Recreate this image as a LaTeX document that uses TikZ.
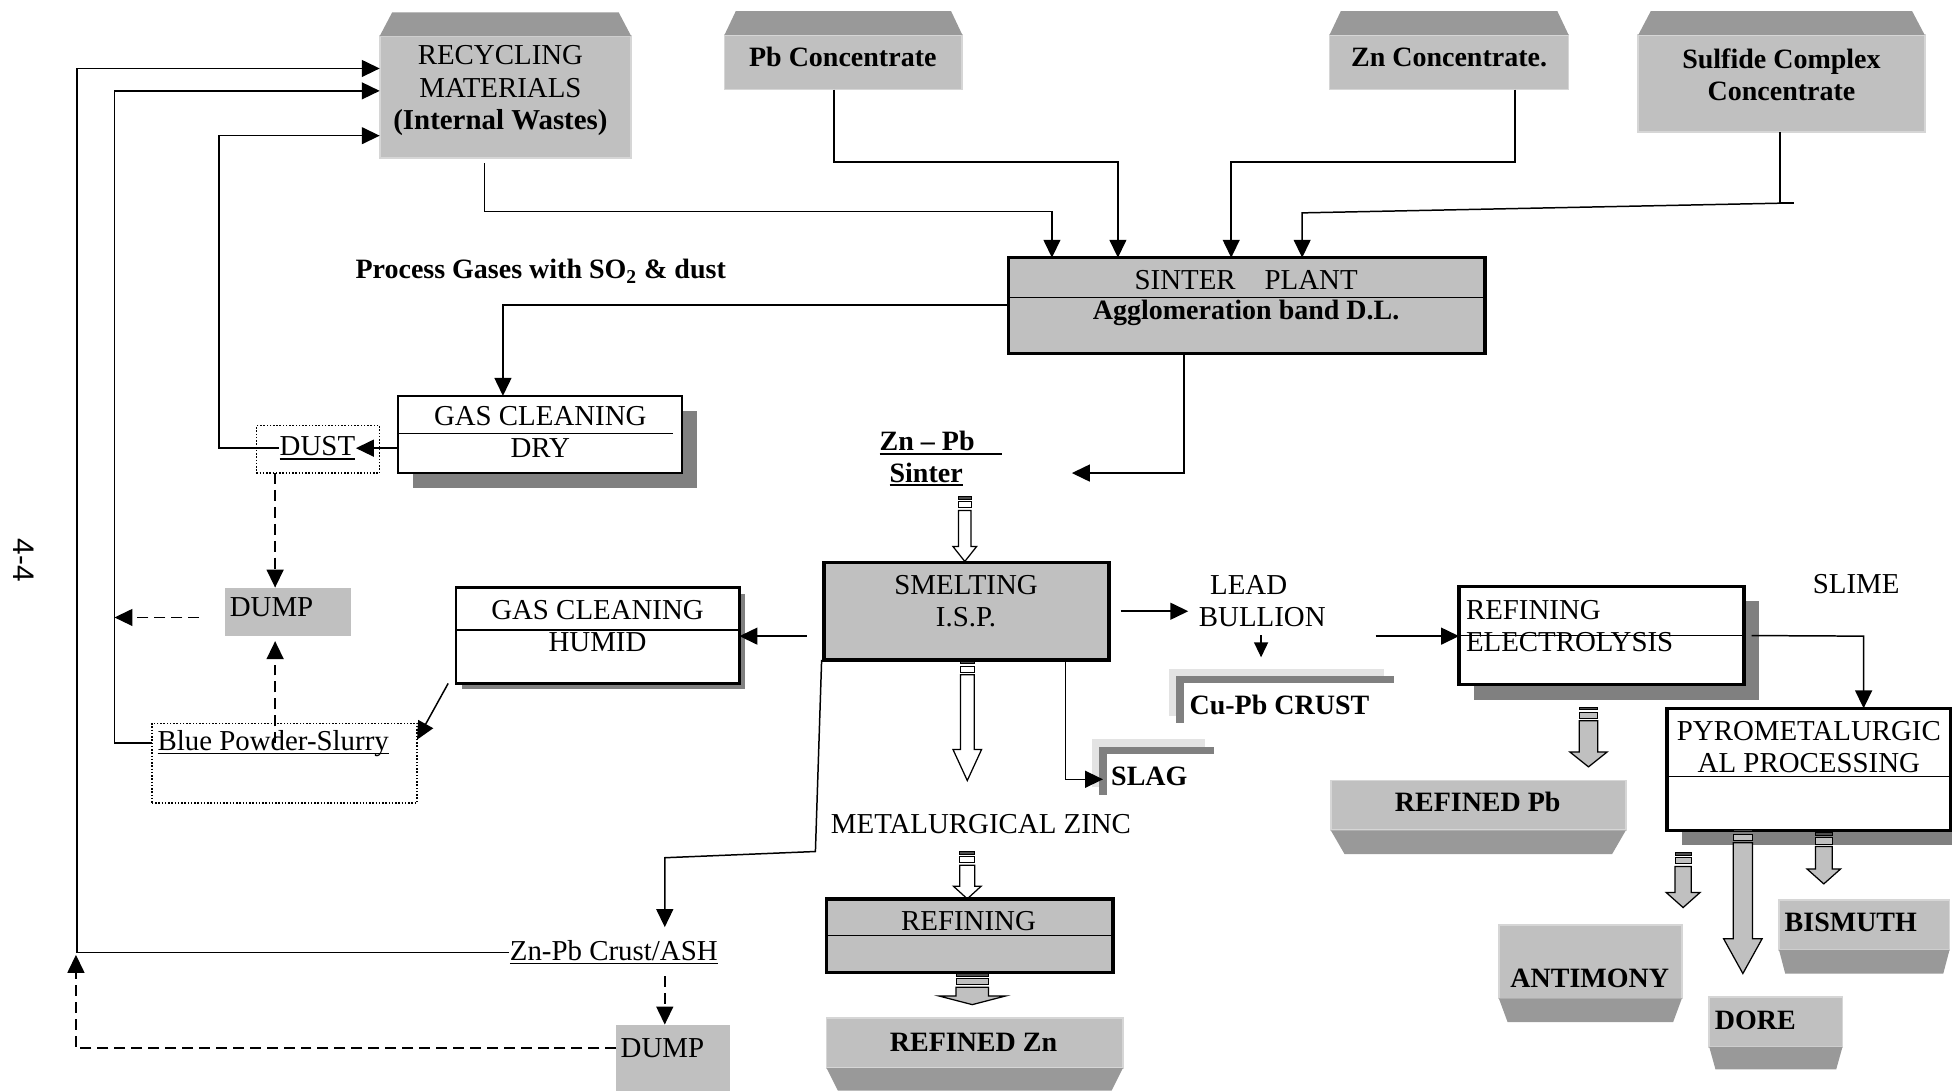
\documentclass[tikz,border=0pt]{standalone}
\usepackage{fontspec}
\setmainfont{Liberation Serif}
\newfontfamily\pagesans{Liberation Sans}
\usetikzlibrary{arrows.meta, calc, shadows}

\newlength{\unitpx}
\setlength{\unitpx}{0.25mm}

\definecolor{boxgray}{HTML}{C0C0C0}
\definecolor{capgray}{HTML}{999999}
\definecolor{shadowgray}{HTML}{808080}
\definecolor{edgegray}{HTML}{D6D6D6}
\definecolor{palegray}{HTML}{E3E3E3}

\tikzset{
  wh/.style 2 args={minimum width=#1*\unitpx, minimum height=#2*\unitpx},
  procbox/.style={draw, line width=0.7mm, fill=boxgray, inner sep=0pt, outer sep=0pt, anchor=north west},
  gasbox/.style={draw, line width=0.45mm, fill=white, inner sep=0pt, outer sep=0pt, anchor=north west},
  cardbox/.style={fill=boxgray, draw=edgegray, line width=0.35mm, inner sep=0pt, outer sep=0pt, anchor=north west},
  dumpbox/.style={fill=boxgray, inner sep=0pt, outer sep=0pt, anchor=north west},
  dotbox/.style={draw, densely dotted, line width=0.3mm, inner sep=0pt, outer sep=0pt, anchor=north west},
  shadowbig/.style={drop shadow={shadow xshift=3mm, shadow yshift=-3mm, fill=shadowgray, opacity=1}},
  shadowsmall/.style={drop shadow={shadow xshift=1.2mm, shadow yshift=-1.2mm, fill=shadowgray, opacity=1}},
  txt/.style={inner sep=0pt, align=center},
  boldtxt/.style={txt, font=\fontsize{16}{18.5}\selectfont\bfseries},
  dashln/.style={dash pattern=on 2.2mm off 1.2mm}
}

% heavier underline, as in the scanned chart
\newcommand{\ulbar}[1]{\setbox0\hbox{#1}\rlap{\rule[-2.3pt]{\wd0}{0.9pt}}\box0}

% striped block arrow: fill, x, top, head start, tip, half shaft, half head
\newcommand{\blockarrow}[7]{%
  \filldraw[fill=black!70, line width=0.2mm] (#2-#6,#3) rectangle (#2+#6,#3+2);
  \filldraw[fill=#1, line width=0.2mm] (#2-#6,#3+4) rectangle (#2+#6,#3+9);
  \filldraw[fill=#1, line width=0.25mm] (#2-#6,#3+11) -- (#2-#6,#4) -- (#2-#7,#4)
    -- (#2,#5) -- (#2+#7,#4) -- (#2+#6,#4) -- (#2+#6,#3+11) -- cycle;
}
% sloped cap above / below a card
\newcommand{\capup}[3]{%
  \fill[capgray] (#1.north west) -- ([xshift=#2*\unitpx, yshift=#3*\unitpx]#1.north west)
    -- ([xshift=-#2*\unitpx, yshift=#3*\unitpx]#1.north east) -- (#1.north east) -- cycle;
}
\newcommand{\capdown}[3]{%
  \fill[capgray] (#1.south west) -- ([xshift=#2*\unitpx, yshift=-#3*\unitpx]#1.south west)
    -- ([xshift=-#2*\unitpx, yshift=-#3*\unitpx]#1.south east) -- (#1.south east) -- cycle;
}

\begin{document}
\begin{tikzpicture}[x=0.25mm, y=-0.25mm, font=\fontsize{16.5}{18.5}\selectfont,
  line width=0.3mm, >={Triangle[length=3.6mm, width=3.4mm]}]

% Background
\fill[white] (0,0) rectangle (1568,876);
\useasboundingbox (0,0) rectangle (1568,876);

% Raw materials
\node[cardbox, wh={202}{98}] (recyc) at (305,29) {};
\capup{recyc}{10}{19}
\node[cardbox, wh={191}{44}] (pbconc) at (582,28) {};
\capup{pbconc}{9}{19}
\node[cardbox, wh={192}{44}] (znconc) at (1068,28) {};
\capup{znconc}{9}{19}
\node[cardbox, wh={230}{78}] (sulfide) at (1316,28) {};
\capup{sulfide}{10}{19}
\node[txt] (recyc-t) at (402,73) {RECYCLING\\MATERIALS\\\textbf{(Internal Wastes)}};
\node[boldtxt] (pbconc-t) at (677,46) {Pb Concentrate};
\node[boldtxt] (znconc-t) at (1164,46) {Zn Concentrate.};
\node[boldtxt] (sulfide-t) at (1431,60) {Sulfide Complex\\Concentrate};

% Sinter plant
\node[procbox, wh={383}{77}] (sinter) at (810,207) {};
\draw ($(sinter.north west)!0.415!(sinter.south west)$) -- ($(sinter.north east)!0.415!(sinter.south east)$);
\node[txt] (sinter-t1) at (1001,225) {SINTER\quad PLANT};
\node[boldtxt] (sinter-t2) at (1001,251) {Agglomeration band D.L.};

\coordinate (r1) at (389,170);
\coordinate (r2) at (845,170);
\draw[->, shorten <=1mm] (recyc.south -| r1) -- (r1) -- (r2) -- (r2 |- sinter.north);
\coordinate (p1) at (670,130);
\coordinate (p2) at (898,130);
\draw[->] (pbconc.south -| p1) -- (p1) -- (p2) -- (p2 |- sinter.north);
\coordinate (n1) at (1217,130);
\coordinate (n2) at (989,130);
\draw[->] (znconc.south -| n1) -- (n1) -- (n2) -- (n2 |- sinter.north);
\coordinate (q1) at (1430,163);
\coordinate (q2) at (1441,163);
\coordinate (q3) at (1046,171);
\draw (sulfide.south -| q1) -- (q1) -- (q2);
\draw[->] (q2) -- (q3) -- (q3 |- sinter.north);

% Dry gas cleaning
\node[boldtxt, anchor=west] (gases-t) at (285,218) {Process Gases with SO\textsubscript{2} \& dust};
\node[gasbox, shadowbig, wh={228}{62}] (gasdry) at (320,318) {};
\draw[shorten >=1.8mm] ($(gasdry.north west)!0.49!(gasdry.south west)$) -- ($(gasdry.north east)!0.49!(gasdry.south east)$);
\node[txt] (gasdry-t) at (434,347) {GAS CLEANING\\DRY};
\coordinate (g1) at (404,245);
\draw[->] (sinter.west |- g1) -- (g1) -- (g1 |- gasdry.north);

\node[dotbox, wh={99}{38}] (dust) at (206,342) {};
\node[txt] (dust-t) at (255,360) {\ulbar{DUST}};
\node[dumpbox, wh={101}{39}] (dump1) at (181,472) {};
\node[txt, anchor=west] (dump1-t) at (184,488) {DUMP};
\draw[->] (gasdry.west |- dust-t) -- (dust-t.east);
\coordinate (k1) at (176,109);
\draw[->] (dust-t.west) -| (k1) -- (recyc.west |- k1);
\coordinate (d1) at (221,0);
\draw[dashln, ->] (dust.south -| d1) -- (dump1.north -| d1);

% Humid gas cleaning
\node[gasbox, shadowsmall, wh={228}{77}] (gashumid) at (366,472) {};
\draw ($(gashumid.north west)!0.44!(gashumid.south west)$) -- ($(gashumid.north east)!0.44!(gashumid.south east)$);
\node[txt] (gashumid-t) at (480,503) {GAS CLEANING\\HUMID};
\node[dotbox, wh={213}{64}] (blue) at (122,581) {};
\node[txt, anchor=west] (blue-t) at (126,597) {\ulbar{Blue Powder-Slurry}};
\draw[dashln, ->, shorten >=1mm] (blue-t -| d1) -- (dump1.south -| d1);
\coordinate (b1) at (92,73);
\draw[->] (blue.west |- blue-t) -| (b1) -- (recyc.west |- b1);
\coordinate (e1) at (160,496);
\draw[dashln, ->] (e1) -- (e1 -| b1);
\draw[->] ([xshift=-1.5mm]gashumid.south west) -- ([yshift=-3.3mm]blue.north east);

% Smelting
\node[boldtxt, anchor=west] (zpb-t1) at (706,356) {\ulbar{Zn -- Pb\hspace{5.5mm}}};
\node[boldtxt, anchor=west] (zpb-t2) at (714,381) {\ulbar{Sinter}};
\coordinate (z1) at (951,380);
\coordinate (z2) at (861,380);
\draw[->] (sinter.south -| z1) -- (z1) -- (z2);
\blockarrow{white}{775}{399}{439}{451}{5}{9.5}

\node[procbox, wh={229}{78}] (smelt) at (662,452) {};
\node[txt] (smelt-t) at (776,483) {SMELTING\\I.S.P.};
\coordinate (h1) at (648,511);
\draw[->] (h1) -- (gashumid.east |- h1);

% Lead bullion, crust and slag
\node[txt] (lead-t) at (1003,470) {LEAD};
\node[txt] (bullion-t) at (1014,496) {BULLION};
\draw[->, shorten <=2.3mm, shorten >=2mm] (smelt.east) -- (bullion-t.west |- smelt.east);
\coordinate (c1) at (1013,528);
\draw[-{Triangle[length=3mm, width=2.8mm]}, shorten <=1.5mm] (bullion-t.south -| c1) -- (c1);

\fill[palegray] (939,537) rectangle (1112,543);
\fill[palegray] (939,537) rectangle (945,575);
\fill[shadowgray] (945,543) rectangle (1120,549);
\fill[shadowgray] (945,543) rectangle (951,581);
\node[boldtxt, anchor=west] (cupb-t) at (955,566) {Cu-Pb CRUST};

\fill[palegray] (877,594) rectangle (968,600);
\fill[palegray] (877,594) rectangle (883,632);
\fill[shadowgray] (883,600) rectangle (975,606);
\fill[shadowgray] (883,600) rectangle (889,639);
\node[boldtxt, anchor=west] (slag-t) at (892,624) {SLAG};
\coordinate (sl1) at (856,626);
\draw[->, shorten >=1.5mm] (smelt.south -| sl1) -- (sl1) -- (slag-t.west |- sl1);

% Zinc line
\blockarrow{white}{777}{531}{602}{627}{5.5}{11.5}
\node[txt] (metzinc-t) at (788,662) {METALURGICAL ZINC};
\blockarrow{white}{777}{684}{712}{722}{6}{11}
\node[procbox, wh={230}{59}] (refzn) at (664,722) {};
\draw ($(refzn.north west)!0.5!(refzn.south west)$) -- ($(refzn.north east)!0.5!(refzn.south east)$);
\node[txt] (refzn-t) at (778,740) {REFINING};
\blockarrow{boxgray}{781}{782}{800}{807}{13}{27}
\node[cardbox, wh={238}{40}] (refinedzn) at (664,818) {};
\capdown{refinedzn}{9}{18}
\node[boldtxt] (refinedzn-t) at (782,837) {REFINED Zn};

% Zn-Pb crust / ash
\node[txt, anchor=west] (crust-t) at (409,765) {\ulbar{Zn-Pb Crust/ASH}};
\coordinate (w1) at (655,684);
\coordinate (w2) at (534,689);
\draw[->, shorten >=2.5mm] ([xshift=-0.5mm]smelt.south west) -- (w1) -- (w2) -- (w2 |- crust-t.north);
\coordinate (a1) at (62,55);
\draw[->] (crust-t.west) -| (a1) -- (recyc.west |- a1);
\node[dumpbox, wh={91}{55}] (dump2) at (495,823) {};
\node[txt, anchor=west] (dump2-t) at (498,842) {DUMP};
\draw[dashln, ->, shorten <=2.2mm] (crust-t.south -| w2) -- (dump2.north -| w2);
\coordinate (a2) at (61,767);
\draw[dashln, ->] (dump2.west |- dump2-t) -| (a2);

% Lead refining
\node[procbox, fill=white, shadowbig, wh={229}{79}] (elec) at (1172,471) {};
\draw (elec.west) -- (elec.east);
\node[txt, align=left, anchor=west] (elec-t) at (1177,503) {REFINING\\ELECTROLYSIS};
\coordinate (l1) at (1105,511);
\draw[->] (l1) -- (elec.west |- l1);
\node[txt] (slime-t) at (1491,469) {SLIME};
\node[procbox, fill=white, shadowbig, wh={228}{98}] (pyro) at (1339,569) {};
\draw ($(pyro.north west)!0.56!(pyro.south west)$) -- ($(pyro.north east)!0.56!(pyro.south east)$);
\node[txt] (pyro-t) at (1453,600) {PYROMETALURGIC\\AL PROCESSING};
\coordinate (y1) at (1497,511);
\draw[->, shorten <=1.5mm] (elec.east) -- (y1) -- (y1 |- pyro.north);

\blockarrow{boxgray}{1276}{568}{604}{616}{7.5}{15}
\node[cardbox, wh={237}{40}] (refinedpb) at (1069,627) {};
\capdown{refinedpb}{11}{19}
\node[boldtxt] (refinedpb-t) at (1187,644) {REFINED Pb};

% Slime products
\blockarrow{boxgray}{1352}{685}{717}{729}{6.5}{13.5}
\blockarrow{boxgray}{1400}{666}{754}{782}{7.8}{15.5}
\blockarrow{boxgray}{1465}{669}{698}{710}{6.7}{13.5}
\node[cardbox, wh={147}{59}] (antimony) at (1204,743) {};
\capdown{antimony}{7}{19}
\node[boldtxt] (antimony-t) at (1277,786) {ANTIMONY};
\node[cardbox, wh={107}{40}] (dore) at (1373,801) {};
\capdown{dore}{5}{18}
\node[boldtxt, anchor=west] (dore-t) at (1377,820) {DORE};
\node[cardbox, wh={137}{40}] (bismuth) at (1429,723) {};
\capdown{bismuth}{5}{19}
\node[boldtxt, anchor=west] (bismuth-t) at (1433,741) {BISMUTH};

% Page number
\node[rotate=-90, inner sep=0pt, font=\pagesans\fontsize{17}{20}\selectfont] (page-t) at (19,450) {4-4};

\end{tikzpicture}
\end{document}
